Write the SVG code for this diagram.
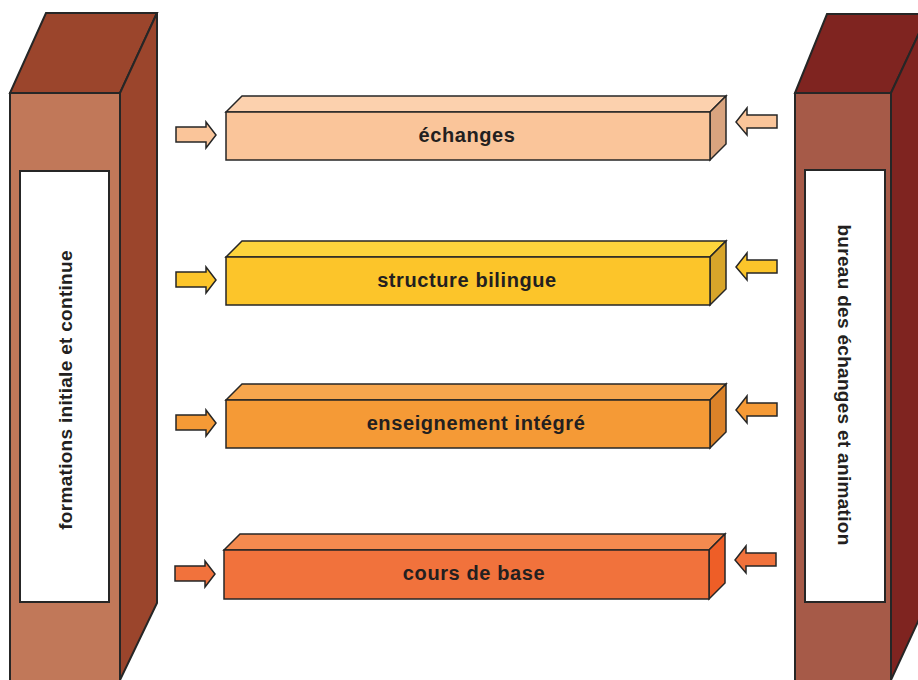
<svg xmlns="http://www.w3.org/2000/svg" width="918" height="680" viewBox="0 0 918 680">
<style>
.s{stroke:#262626;stroke-width:1.5;stroke-linejoin:miter}
.p{stroke:#262626;stroke-width:2;stroke-linejoin:miter}
.t{font-family:"Liberation Sans",Arial,sans-serif;font-weight:bold;font-size:20px;letter-spacing:0.6px;fill:#231f20;text-anchor:middle}
.v{font-size:19px;letter-spacing:0.3px}
</style>
<rect width="918" height="680" fill="#ffffff"/>
<g id="pillar-left">
<polygon class="p" points="10,93 46,13 157,13 120,93" fill="#9B452C"/>
<polygon class="p" points="120,93 157,13 157,603 120,680" fill="#9B452C"/>
<rect class="p" x="10" y="93" width="110" height="600" fill="#C17859"/>
<rect class="p" x="20" y="171" width="89" height="431" fill="#ffffff"/>
<text class="t v" transform="translate(72,390) rotate(-90)">formations initiale et continue</text>
</g>
<g id="pillar-right">
<polygon class="p" points="795,93 827,14 928,14 891,93" fill="#7F2420"/>
<polygon class="p" points="891,93 928,14 928,600 891,680" fill="#7F2420"/>
<rect class="p" x="795" y="93" width="96" height="600" fill="#A65A48"/>
<rect class="p" x="805" y="170" width="80" height="432" fill="#ffffff"/>
<text class="t v" transform="translate(838,385) rotate(90)">bureau des échanges et animation</text>
</g>
<g id="box-echanges">
<polygon class="s" points="226,112 242,96 726,96 710,112" fill="#FCD1AE"/>
<polygon class="s" points="710,112 726,96 726,144 710,160" fill="#D9A47F"/>
<rect class="s" x="226" y="112" width="484" height="48" fill="#FAC59A"/>
<text class="t" x="467" y="142">échanges</text>
</g>
<g id="box-structure">
<polygon class="s" points="226,257 242,241 726,241 710,257" fill="#FDD43C"/>
<polygon class="s" points="710,257 726,241 726,289 710,305" fill="#D8A52A"/>
<rect class="s" x="226" y="257" width="484" height="48" fill="#FCC52A"/>
<text class="t" x="467" y="287">structure bilingue</text>
</g>
<g id="box-enseignement">
<polygon class="s" points="226,400 242,384 726,384 710,400" fill="#F7A64D"/>
<polygon class="s" points="710,400 726,384 726,432 710,448" fill="#DB8229"/>
<rect class="s" x="226" y="400" width="484" height="48" fill="#F59A36"/>
<text class="t" x="476" y="430">enseignement intégré</text>
</g>
<g id="box-cours">
<polygon class="s" points="224,550 240,534 725,534 709,550" fill="#F48A4F"/>
<polygon class="s" points="709,550 725,534 725,583 709,599" fill="#EE5E27"/>
<rect class="s" x="224" y="550" width="485" height="49" fill="#F1723C"/>
<text class="t" x="474" y="580">cours de base</text>
</g>
<g id="connectors">
<g fill="#FAC59A" class="s">
<polygon points="176,127 206,127 206,122 216,135 206,148 206,142 176,142"/>
<polygon points="777,115 747,115 747,108 736,122 747,135 747,128 777,128"/>
</g>
<g fill="#FCC52A" class="s">
<polygon points="176,272 206,272 206,267 216,280 206,293 206,287 176,287"/>
<polygon points="777,260 747,260 747,253 736,267 747,280 747,273 777,273"/>
</g>
<g fill="#F59A36" class="s">
<polygon points="176,415 206,415 206,410 216,423 206,436 206,430 176,430"/>
<polygon points="777,403 747,403 747,396 736,410 747,423 747,416 777,416"/>
</g>
<g fill="#F1723C" class="s">
<polygon points="175,566 205,566 205,561 215,574 205,587 205,581 175,581"/>
<polygon points="776,553 746,553 746,546 735,560 746,573 746,566 776,566"/>
</g>
</g>
</svg>
